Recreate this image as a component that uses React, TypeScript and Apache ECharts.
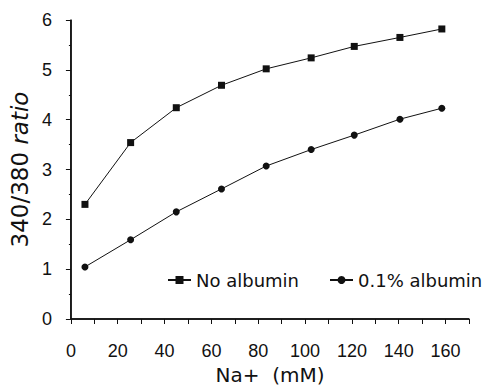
import React, { useEffect, useRef } from "react";
import * as echarts from "echarts";

const sodium = [6, 25.5, 45, 64.3, 83.4, 102.6, 121, 140.5, 158.4];
const noAlbumin = [2.3, 3.54, 4.24, 4.69, 5.02, 5.24, 5.47, 5.65, 5.82];
const withAlbumin = [1.045, 1.59, 2.15, 2.61, 3.07, 3.4, 3.69, 4.01, 4.23];
const seriesNames = ["No albumin", "0.1% albumin"];
const xLabelTicks = [0, 20, 40, 60, 80, 100, 120, 140, 160];
const X_MAX = 170;
const Y_MAX = 6;

const INK = "#111";
const TICK_FONT = "Liberation Sans, Arial, sans-serif";
const NAME_FONT = "DejaVu Sans, sans-serif";

export default function App() {
  const ref = useRef<HTMLDivElement>(null);
  useEffect(() => {
    if (!ref.current) return;
    const chart = echarts.init(ref.current, undefined, { renderer: "svg" });
    const pairs = (ys: number[]) => sodium.map((x, i) => [x, ys[i]]);
    chart.setOption({
      animation: false,
      backgroundColor: "#fff",
      grid: { left: 63, right: 14, top: 20, bottom: 65, containLabel: false },
      legend: {
        left: 162,
        top: 266,
        width: 320,
        orient: "horizontal",
        itemWidth: 23,
        itemHeight: 10,
        itemGap: 30,
        textStyle: { fontFamily: NAME_FONT, fontSize: 18, color: INK },
        data: seriesNames,
      },
      xAxis: {
        type: "value",
        min: 0,
        max: X_MAX,
        interval: 10,
        name: "Na+  (mM)",
        nameLocation: "middle",
        nameGap: 46,
        nameTextStyle: { fontFamily: NAME_FONT, fontSize: 20, color: INK },
        axisLine: { show: true, onZero: false, lineStyle: { color: INK, width: 1.5 } },
        axisTick: { show: true, length: 5, lineStyle: { color: INK, width: 1 } },
        axisLabel: {
          margin: 23,
          fontFamily: TICK_FONT,
          fontSize: 18,
          color: INK,
          formatter: (v: number) => (xLabelTicks.includes(v) ? String(v) : ""),
        },
        splitLine: { show: false },
      },
      yAxis: {
        type: "value",
        min: 0,
        max: Y_MAX,
        interval: 1,
        name: "340/380 {i|ratio}",
        nameLocation: "middle",
        nameGap: 32,
        nameTextStyle: {
          fontFamily: NAME_FONT,
          fontSize: 23,
          color: INK,
          rich: { i: { fontFamily: NAME_FONT, fontSize: 23, fontStyle: "italic", color: INK } },
        },
        axisLine: { show: true, onZero: false, lineStyle: { color: INK, width: 1.5 } },
        axisTick: { show: true, length: 5, lineStyle: { color: INK, width: 1 } },
        minorTick: { show: true, splitNumber: 2, length: 2, lineStyle: { color: INK, width: 1 } },
        axisLabel: { margin: 19, fontFamily: TICK_FONT, fontSize: 18, color: INK },
        splitLine: { show: false },
      },
      series: [
        {
          name: seriesNames[0],
          type: "line",
          data: pairs(noAlbumin),
          symbol: "rect",
          symbolSize: 7,
          lineStyle: { color: INK, width: 1 },
          itemStyle: { color: INK },
        },
        {
          name: seriesNames[1],
          type: "line",
          data: pairs(withAlbumin),
          symbol: "circle",
          symbolSize: 7,
          lineStyle: { color: INK, width: 1 },
          itemStyle: { color: INK },
        },
      ],
    });
    // Axis frame lines (left and bottom) placed from the chart's own scales.
    const origin = chart.convertToPixel({ gridIndex: 0 }, [0, 0]) as number[];
    const xEnd = chart.convertToPixel({ gridIndex: 0 }, [X_MAX, 0]) as number[];
    const yEnd = chart.convertToPixel({ gridIndex: 0 }, [0, Y_MAX]) as number[];
    chart.setOption({
      graphic: [
        {
          type: "line",
          z: 10,
          shape: { x1: origin[0], y1: origin[1], x2: xEnd[0], y2: xEnd[1] },
          style: { stroke: INK, lineWidth: 1.5 },
        },
        {
          type: "line",
          z: 10,
          shape: { x1: origin[0], y1: origin[1], x2: yEnd[0], y2: yEnd[1] },
          style: { stroke: INK, lineWidth: 1.5 },
        },
      ],
    });
    return () => chart.dispose();
  }, []);
  return (
    <div
      ref={ref}
      style={{ position: "fixed", left: 0, top: 0, width: 483, height: 390, background: "#fff" }}
    />
  );
}
